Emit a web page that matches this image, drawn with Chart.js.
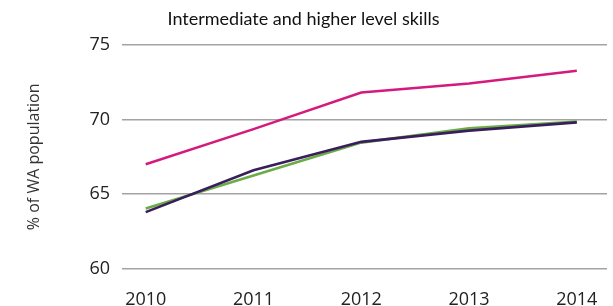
<!DOCTYPE html>
<html>
<head>
<meta charset="utf-8">
<script src="https://cdn.jsdelivr.net/npm/chart.js@4"></script>
<style>
  html, body { margin:0; padding:0; background:#fff; }
  #wrap { width:613px; height:306px; position:relative; }
</style>
</head>
<body>
<div id="wrap"><canvas id="skillsChart" width="613" height="306"></canvas></div>
<script>
const years = [2010, 2011, 2012, 2013, 2014];
const pinkLine = [67.0, 69.35, 71.8, 72.4, 73.25];
const purpleLine = [63.8, 66.6, 68.5, 69.25, 69.8];
const greenLine = [64.05, 66.25, 68.45, 69.4, 69.85];
const yTicks = [60, 65, 70, 75];

const toPoints = vals => years.map((y, i) => ({x: y, y: vals[i]}));

const ctx = document.getElementById('skillsChart').getContext('2d');
const chart = new Chart(ctx, {
    type:'line',
    data:{datasets:[
        {label:'Pink', data:toPoints(pinkLine), borderColor:'#d51a7f', borderWidth:2.6, pointRadius:0, tension:0},
        {label:'Purple', data:toPoints(purpleLine), borderColor:'#3a1d5c', borderWidth:2.6, pointRadius:0, tension:0},
        {label:'Green', data:toPoints(greenLine), borderColor:'#6aac46', borderWidth:2.6, pointRadius:0, tension:0}
    ]},
    options:{
        responsive:false,
        animation:false,
        layout:{padding:{left:0, right:6, top:0, bottom:0}},
        plugins:{
            legend:{display:false},
            tooltip:{enabled:false},
            title:{
                display:true,
                text:'Intermediate and higher level skills',
                color:'#111',
                font:{family:'Lato', size:18, weight:'normal'},
                padding:{top:8, bottom:15}
            }
        },
        scales:{
            x:{
                type:'linear',
                min:2009.78, max:2014.28,
                grid:{display:false},
                border:{display:false},
                ticks:{
                    stepSize:1, includeBounds:false, padding:12,
                    color:'#222', font:{family:'Open Sans', size:18},
                    callback:v => years.includes(v) ? String(v) : ''
                },
                afterFit:s => { s.height = 37; s.paddingLeft = 0; s.paddingRight = 0; }
            },
            y:{
                min:yTicks[0], max:yTicks[yTicks.length-1],
                afterBuildTicks:s => { s.ticks = yTicks.map(v => ({value:v})); },
                grid:{color:'#a3a3a3', lineWidth:1.5, drawTicks:false},
                border:{display:false},
                ticks:{padding:12, color:'#222', font:{family:'Open Sans', size:18}},
                title:{
                    display:true,
                    text:'% of WA population',
                    color:'#333',
                    font:{family:'Open Sans', size:16},
                    padding:{top:25, bottom:0}
                },
                afterFit:s => { s.width = 122; }
            }
        }
    }
});
</script>
</body>
</html>
